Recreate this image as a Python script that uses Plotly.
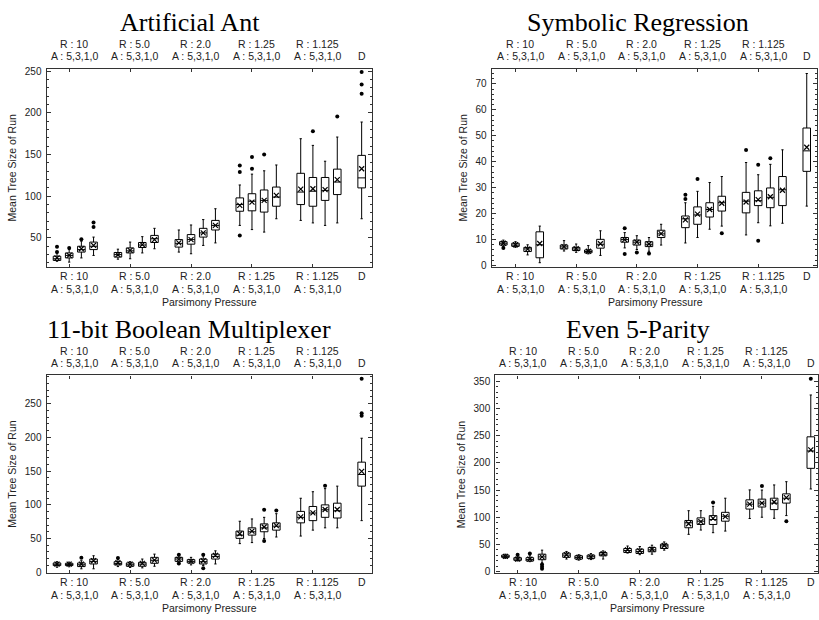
import plotly.graph_objects as go

W, H = 819, 620

# ---------------- categories / labels ----------------
r_labels = ["R : 10", "R : 5.0", "R : 2.0", "R : 1.25", "R : 1.125"]
a_label = "A : 5,3,1,0"
d_label = "D"
arity_values = [5, 3, 1, 0]
x_title = "Parsimony Pressure"
y_title = "Mean Tree Size of Run"
titles = ["Artificial Ant", "Symbolic Regression", "11-bit Boolean Multiplexer", "Even 5-Parity"]

# ---------------- data (21 boxes: 5 R groups x 4 A values, then D) ----------------
ant_lo = [22, 21, 26, 29, 24.5, 25, 32, 37, 33, 31, 41, 44, 65, 60, 57, 73, 71, 68, 65, 68, 73]
ant_q1 = [23, 26, 33, 36, 27, 32, 38.5, 44.5, 39, 42.5, 51, 59.5, 82, 82.5, 81, 88, 90, 88, 95, 102, 110]
ant_med = [25, 29, 36, 40, 30, 34.5, 41.5, 49, 43.5, 48, 56, 65, 90, 94, 95, 99, 105, 106, 107, 117, 122]
ant_q3 = [28, 32, 40, 45, 32.5, 38, 44.5, 53, 48, 54, 61.5, 71, 98, 103, 107.5, 111, 127.5, 122.5, 122.5, 132.5, 149]
ant_hi = [32, 36, 46, 51, 36.5, 45, 51.5, 61.5, 59.5, 65.5, 72, 85, 113.5, 126.5, 130.5, 137.5, 169, 161, 142, 171, 189]
ant_mean = [26, 29, 37, 41, 30, 35, 42, 48, 44, 48, 56, 65, 89, 93, 95, 101, 108.5, 109, 108, 120, 133]
ant_out = [[33, 39.5], [38], [48.5], [63, 68.5], [], [], [], [], [], [], [], [],
           [137, 129, 53], [147, 133], [150], [], [], [178], [], [195.5], [249, 234, 223]]

sr_lo = [7.3, 7.0, 4.1, 1.1, 5.6, 5.1, 4.5, 3.9, 6.8, 6.2, 5.5, 7.9, 8.7, 10.8, 14.0, 15.2, 11.8, 16.5, 15.3, 16.3, 22.9]
sr_q1 = [7.9, 7.4, 5.4, 3.0, 6.4, 5.8, 4.9, 6.7, 9.0, 7.9, 7.3, 10.8, 14.6, 15.9, 18.7, 21.0, 20.3, 23.1, 22.3, 23.1, 36.3]
sr_med = [8.6, 7.9, 6.4, 8.0, 7.2, 6.4, 5.4, 8.2, 10.0, 9.0, 8.2, 12.2, 18.0, 19.5, 21.6, 24.2, 24.8, 25.0, 26.3, 29.2, 44.2]
sr_q3 = [9.2, 8.6, 7.0, 13.0, 7.9, 7.0, 6.0, 10.1, 10.8, 9.8, 9.2, 13.6, 19.1, 22.6, 24.2, 26.7, 28.2, 28.8, 29.9, 34.3, 53.0]
sr_hi = [9.8, 9.2, 8.0, 15.2, 9.6, 8.3, 7.7, 13.4, 12.7, 11.5, 10.8, 15.9, 24.2, 28.6, 32.0, 34.3, 39.7, 35.0, 39.0, 44.6, 74.0]
sr_mean = [8.6, 8.0, 6.3, 8.5, 7.3, 6.5, 5.5, 8.4, 10.0, 9.0, 8.3, 12.3, 17.6, 19.8, 21.6, 24.0, 24.5, 25.4, 26.5, 29.0, 45.6]
sr_out = [[6.8], [], [], [], [], [], [], [], [14.4, 4.5], [5.0], [4.6], [],
          [27.3, 25.6], [33.4], [], [12.4], [44.5], [38.8, 9.6], [41.3], [], []]

mux_lo = [7.3, 8, 5, 5, 8.3, 7, 6.4, 8.8, 11.3, 10.8, 10, 12.2, 42.4, 43.9, 50, 52.2, 53.6, 62.4, 65.8, 65.8, 76.5]
mux_q1 = [9.8, 9.8, 8.3, 12.2, 10.8, 8.8, 8.8, 13.2, 16.1, 13.7, 12.2, 19.5, 50.2, 55, 60, 62.4, 73.2, 76.5, 81.4, 80.4, 127.7]
mux_med = [11.7, 11.5, 11, 16, 13, 11, 12, 17.6, 19.5, 16, 15.6, 23.4, 55, 60, 65.8, 68.3, 81.4, 87.8, 92.6, 91.2, 145]
mux_q3 = [13.7, 13.2, 13.7, 19.5, 15.6, 13.7, 14.6, 22, 22, 18.6, 19.5, 26.8, 61, 65.8, 71.7, 73.2, 90.2, 97.5, 99.9, 102.4, 163.3]
mux_hi = [15.6, 15, 17, 24.4, 19.5, 15.6, 19.5, 26.8, 24.4, 22, 24.4, 31.7, 75.6, 79, 81.4, 86.8, 109.7, 119.4, 124, 127.7, 198.8]
mux_mean = [12, 12, 12, 17, 14, 12, 13, 18, 19, 16, 17, 25, 57, 61, 67, 69, 82, 88, 93, 93, 149.6]
mux_out = [[], [], [21.5], [], [21], [], [], [], [26, 13], [], [26, 6], [],
           [], [], [92.6, 46.3], [91.6], [], [], [128.2], [], [287, 236, 232]]

par_lo = [24.2, 19.4, 18.2, 16, 23, 21, 22, 23, 34, 31, 32, 39.4, 68.5, 76.4, 71.5, 74.5, 97.6, 100, 98, 103, 152]
par_q1 = [26.1, 20.6, 19.4, 21.8, 26.1, 23, 24.2, 29, 35, 33.3, 36.4, 42.4, 80.6, 86.7, 86.7, 92.7, 115, 118.8, 114, 126, 190]
par_med = [27.9, 23, 22, 27, 30.3, 26, 27.3, 32, 38.8, 37, 40, 47.3, 89.7, 92.7, 95.8, 101.8, 124, 126, 126, 135, 222]
par_q3 = [30.3, 25.5, 25.5, 32, 34, 29, 30.3, 35, 42.4, 41.2, 44.2, 50.3, 94, 98.8, 103, 109, 132, 133.3, 135, 143, 248]
par_hi = [32, 28, 29, 39.4, 37, 31, 33, 38, 47, 46, 48.5, 54.5, 112, 112, 120, 135, 150.3, 150, 159.4, 165.4, 325]
par_mean = [28, 23, 23, 27, 31, 26, 27, 33, 40, 38, 41, 48, 88, 92, 98, 101, 124, 126, 128, 136, 224]
par_out = [[], [31], [33.3], [13, 9, 5], [], [], [], [], [], [], [], [],
           [], [], [127.3], [], [], [157.6], [], [92.7], [355]]

# ---------------- layout helpers ----------------
positions = [g * 5 + k for g in range(len(r_labels)) for k in range(len(arity_values))] + [25]
group_tick = [g * 5 + 1 for g in range(len(r_labels))]
group_label_x = [g * 5 + 1.4 for g in range(len(r_labels))]

panels = [
    dict(lo=ant_lo, q1=ant_q1, med=ant_med, q3=ant_q3, hi=ant_hi, mean=ant_mean, out=ant_out,
         px=(46.7, 372.7), py=(66.7, 267.3), xr=[-0.85, 25.87], yr=[15.3, 252.8], dt=50, mdt=10,
         ytx=11.7, tx=190, ptx=209.7),
    dict(lo=sr_lo, q1=sr_q1, med=sr_med, q3=sr_q3, hi=sr_hi, mean=sr_mean, out=sr_out,
         px=(492.3, 818.3), py=(66.7, 267.3), xr=[-0.96, 25.87], yr=[-0.5, 75.8], dt=10, mdt=2,
         ytx=463.3, tx=639, ptx=656),
    dict(lo=mux_lo, q1=mux_q1, med=mux_med, q3=mux_q3, hi=mux_hi, mean=mux_mean, out=mux_out,
         px=(46.7, 372.7), py=(377.3, 577.3), xr=[-0.85, 25.87], yr=[-1, 292], dt=50, mdt=10,
         ytx=11.7, tx=189, ptx=209.7),
    dict(lo=par_lo, q1=par_q1, med=par_med, q3=par_q3, hi=par_hi, mean=par_mean, out=par_out,
         px=(496.0, 819.0), py=(377.3, 577.3), xr=[-0.82, 25.59], yr=[-2.4, 361], dt=50, mdt=10,
         ytx=461.7, tx=639, ptx=658.5),
]

SANS = "Liberation Sans, Arial, sans-serif"
SERIF = "Liberation Serif, Times New Roman, serif"
AXC = "#333333"
TXT = "#222222"

fig = go.Figure()
annotations = []
layout_axes = {}


def py2paper(y):
    return 1 - y / H


for i, p in enumerate(panels):
    n = i + 1
    xa = "x" if n == 1 else f"x{n}"
    ya = "y" if n == 1 else f"y{n}"
    xkey = "xaxis" if n == 1 else f"xaxis{n}"
    ykey = "yaxis" if n == 1 else f"yaxis{n}"

    fig.add_trace(go.Box(
        x=positions, q1=p["q1"], median=p["med"], q3=p["q3"],
        lowerfence=p["lo"], upperfence=p["hi"],
        xaxis=xa, yaxis=ya, boxpoints=False, width=0.62, whiskerwidth=0.3,
        line=dict(color="black", width=1), fillcolor="white", hoverinfo="skip"))
    fig.add_trace(go.Scatter(
        x=positions, y=p["mean"], mode="markers", xaxis=xa, yaxis=ya,
        marker=dict(symbol="x-thin", size=5, color="black", line=dict(width=1.2, color="black")),
        hoverinfo="skip"))
    ox, oy = [], []
    for pos, vals in zip(positions, p["out"]):
        for v in vals:
            ox.append(pos)
            oy.append(v)
    fig.add_trace(go.Scatter(
        x=ox, y=oy, mode="markers", xaxis=xa, yaxis=ya,
        marker=dict(symbol="circle", size=4, color="black"), hoverinfo="skip"))

    x0, x1 = p["px"]
    y0, y1 = p["py"]
    layout_axes[xkey] = dict(
        domain=[x0 / W, min(x1 / W, 1.0)], range=p["xr"], anchor=ya,
        tickmode="array", tickvals=group_tick, ticktext=[""] * len(group_tick),
        ticks="inside", ticklen=3, tickwidth=1, tickcolor=AXC,
        showline=True, linecolor=AXC, linewidth=1.3, mirror="ticks",
        showgrid=False, zeroline=False, fixedrange=True)
    layout_axes[ykey] = dict(
        domain=[py2paper(y1), py2paper(y0)], range=p["yr"], anchor=xa,
        tickmode="linear", tick0=0, dtick=p["dt"],
        ticks="inside", ticklen=4, tickwidth=1, tickcolor=AXC,
        minor=dict(dtick=p["mdt"], tick0=0, ticks="inside", ticklen=2, tickcolor=AXC, tickwidth=1),
        showline=True, linecolor=AXC, linewidth=1.3, mirror="ticks",
        showgrid=False, zeroline=False, fixedrange=True,
        tickfont=dict(family=SANS, size=10, color=TXT), ticklabelstandoff=2)

    top = y0
    bot = y1
    # title
    annotations.append(dict(text=titles[i], x=p["tx"] / W,
                            y=py2paper(top - 47), xref="paper", yref="paper",
                            showarrow=False, xanchor="center", yanchor="middle",
                            font=dict(family=SERIF, size=26, color="black")))
    # group labels top and bottom
    for gx, rl in zip(group_label_x, r_labels):
        for yy, txt in ((top - 25, rl), (top - 12.6, a_label), (bot + 9.4, rl), (bot + 22, a_label)):
            annotations.append(dict(text=txt, x=gx, y=py2paper(yy), xref=xa, yref="paper",
                                    showarrow=False, xanchor="center", yanchor="middle",
                                    font=dict(family=SANS, size=10.5, color=TXT)))
    for yy in (top - 12.6, bot + 9.4):
        annotations.append(dict(text=d_label, x=25, y=py2paper(yy), xref=xa, yref="paper",
                                showarrow=False, xanchor="center", yanchor="middle",
                                font=dict(family=SANS, size=10.5, color=TXT)))
    # x title
    annotations.append(dict(text=x_title, x=p["ptx"] / W,
                            y=py2paper(bot + 35.4), xref="paper", yref="paper",
                            showarrow=False, xanchor="center", yanchor="middle",
                            font=dict(family=SANS, size=10.5, color=TXT)))
    # y title
    annotations.append(dict(text=y_title, x=p["ytx"] / W, y=py2paper((y0 + y1) / 2), xref="paper",
                            yref="paper", showarrow=False, textangle=-90,
                            xanchor="center", yanchor="middle",
                            font=dict(family=SANS, size=10.5, color=TXT)))

fig.update_layout(
    width=W, height=H, margin=dict(l=0, r=0, t=0, b=0),
    paper_bgcolor="white", plot_bgcolor="white", showlegend=False,
    annotations=annotations, **layout_axes)

fig.write_html("out.html")
